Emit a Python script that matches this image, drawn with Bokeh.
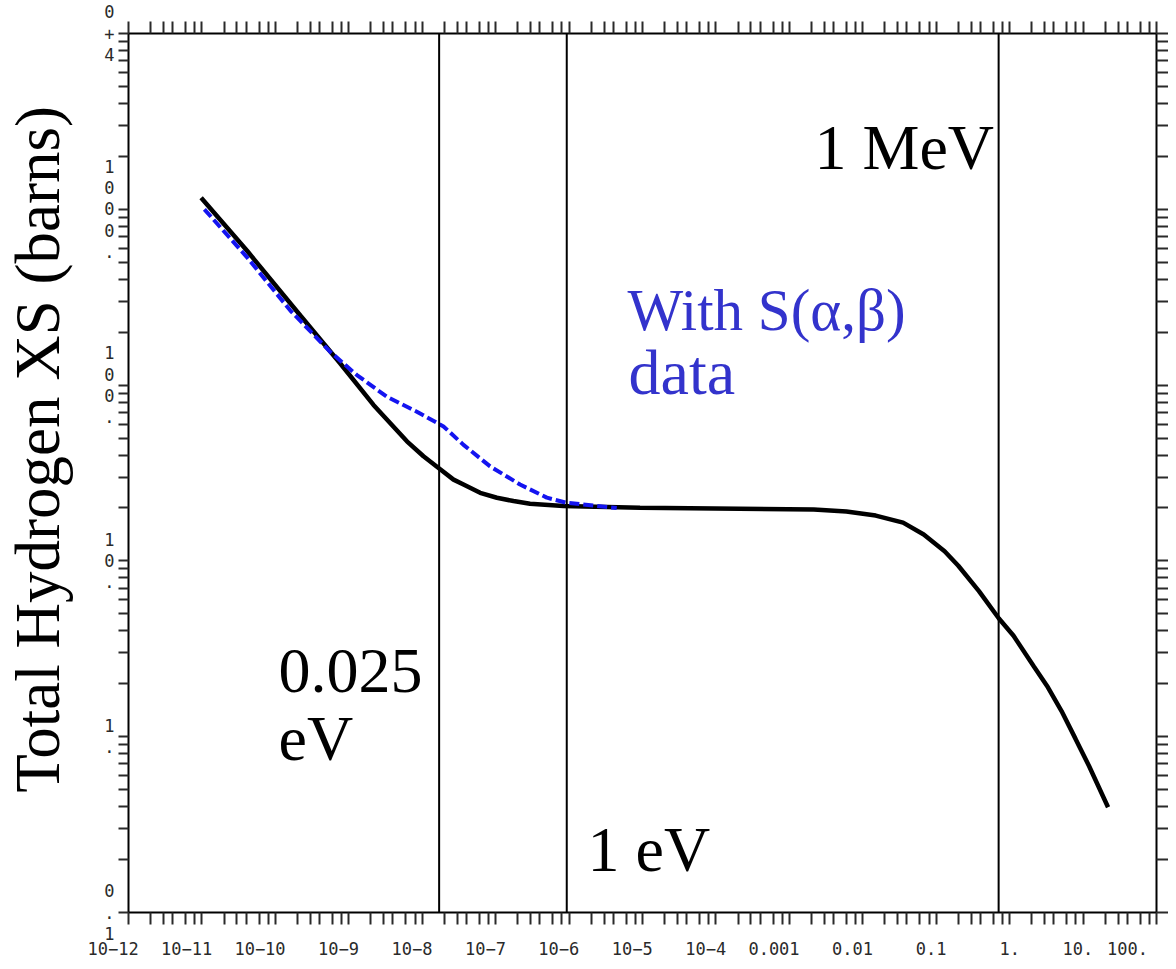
from bokeh.plotting import figure
from bokeh.models import FixedTicker, LogAxis, CustomJSTickFormatter, Span, Label
from bokeh.embed import file_html
from bokeh.resources import INLINE

# ---- data (energy in MeV, cross section in barns) ----
total_energy_mev = [9.75e-12, 4.12e-11, 2.19e-10, 7.66e-10, 2.17e-9, 6.19e-9, 1.04e-8,
                    1.67e-8, 2.67e-8, 3.65e-8, 6.15e-8, 1.04e-7, 1.75e-7, 2.94e-7,
                    8.36e-7, 9.25e-6, 2.15e-3, 5.98e-3, 1.50e-2, 3.54e-2, 6.76e-2,
                    0.130, 0.200, 0.382, 0.714, 1.13, 2.15, 3.32, 5.09, 7.87, 12.1, 21.9]
total_xs_barns = [1164, 580.7, 248.9, 132.7, 77.1, 47.9, 39.4,
                  33.8, 29.0, 27.2, 24.4, 22.86, 21.9, 21.13,
                  20.51, 20.04, 19.63, 19.10, 18.11, 16.52, 14.13,
                  11.35, 9.38, 6.73, 4.70, 3.75, 2.50, 1.91, 1.40, 0.975, 0.679, 0.397]

sab_energy_mev = [1.08e-11, 4.12e-11, 1.60e-10, 5.60e-10, 1.29e-9, 3.30e-9, 8.45e-9,
                  1.95e-8, 3.65e-8, 8.41e-8, 2.15e-7, 4.98e-7, 9.31e-7, 4.46e-6]
sab_xs_barns = [1000, 533, 265.5, 154.5, 114.0, 85.9, 70.6,
                58.2, 45.7, 34.5, 27.2, 22.9, 21.4, 20.0]

marker_energy_mev = [1.70e-8, 9.3e-7, 0.708]

x_major = [1e-12, 1e-11, 1e-10, 1e-9, 1e-8, 1e-7, 1e-6, 1e-5, 1e-4, 1e-3, 1e-2, 1e-1, 1.0, 10.0, 100.0]
x_minor_mult = [2, 3, 4, 6, 8]
y_major = [0.1, 1.0, 10.0, 100.0, 1000.0, 10000.0]
y_minor_mult = [2, 3, 4, 5, 6, 7, 8, 9]

x_tick_labels = ["10\u221212", "10\u221211", "10\u221210", "10\u22129", "10\u22128", "10\u22127",
                 "10\u22126", "10\u22125", "10\u22124", "0.001", "0.01", "0.1", "1.", "10.", "100."]
y_tick_labels = ["0\n.\n1", "1\n.", "1\n0\n.", "1\n0\n0\n.", "1\n0\n0\n0\n.", "0\n+\n4"]
y_title = "Total Hydrogen XS (barns)"

x_minor = [m * v for v in x_major[:-1] for m in x_minor_mult]
y_minor = [m * v for v in y_major[:-1] for m in y_minor_mult]
# labels in the original sit with their right end just past the tick
x_tick_text = [t + "\u00a0" * max(len(t) - 2, 0) for t in x_tick_labels]

p = figure(width=1168, height=961, x_axis_type="log", y_axis_type="log",
           x_range=(x_major[0], x_major[-1]), y_range=(y_major[0], y_major[-1]),
           output_backend="svg", toolbar_location=None,
           min_border_left=128, min_border_right=11, min_border_top=33, min_border_bottom=44,
           background_fill_color="white", border_fill_color="white")
p.outline_line_color = None
p.grid.visible = False

TICK_COLOR = "#2a2a2a"
LABEL_FONT = "DejaVu Sans Mono"
SERIF = "Liberation Serif"


def style_axis(ax, ticker, tick_len):
    ax.ticker = ticker
    ax.axis_line_color = "black"
    ax.axis_line_width = 2
    ax.major_tick_line_color = TICK_COLOR
    ax.minor_tick_line_color = TICK_COLOR
    ax.major_tick_line_width = 2
    ax.minor_tick_line_width = 2
    ax.major_tick_out = tick_len
    ax.minor_tick_out = tick_len
    ax.major_tick_in = 0
    ax.minor_tick_in = 0


xticker = FixedTicker(ticks=x_major, minor_ticks=x_minor)
yticker = FixedTicker(ticks=y_major, minor_ticks=y_minor)

bottom = p.below[0]
style_axis(bottom, xticker, 12)
bottom.formatter = CustomJSTickFormatter(args=dict(labels=x_tick_text),
                                         code="return labels[Math.round(Math.log10(tick)) + 12];")
bottom.major_label_text_font = LABEL_FONT
bottom.major_label_text_font_size = "17px"
bottom.major_label_text_color = TICK_COLOR
bottom.major_label_standoff = 14

left = p.left[0]
style_axis(left, yticker, 10)
left.formatter = CustomJSTickFormatter(args=dict(labels=y_tick_labels),
                                       code="return labels[Math.round(Math.log10(tick)) + 1];")
left.major_label_text_font = LABEL_FONT
left.major_label_text_font_size = "17px"
left.major_label_text_color = TICK_COLOR
left.major_label_text_line_height = 1.06
left.major_label_standoff = 4
# leading spaces move the (frame-centred) title up, as in the original
left.axis_label = "\u00a0" * 3 + y_title
left.axis_label_text_font = SERIF
left.axis_label_text_font_size = "63px"
left.axis_label_text_font_style = "normal"
left.axis_label_text_color = "black"
left.axis_label_standoff = 28

top = LogAxis(formatter=CustomJSTickFormatter(code="return '';"))
style_axis(top, xticker, 12)
top.major_label_text_font_size = "1px"
top.major_label_standoff = 0
p.add_layout(top, "above")

right = LogAxis(formatter=CustomJSTickFormatter(code="return '';"))
style_axis(right, yticker, 12)
right.major_label_text_font_size = "1px"
right.major_label_standoff = 0
p.add_layout(right, "right")

# curves
p.line(total_energy_mev, total_xs_barns, line_color="black", line_width=4.5)
p.line(sab_energy_mev, sab_xs_barns, line_color="#1414f0", line_width=4, line_dash="10 4")

for e in marker_energy_mev:
    p.add_layout(Span(location=e, dimension="height", line_color="black", line_width=2))

texts = [
    ("1 MeV", 686, 765, "black", "64px"),
    ("With S(\u03b1,\u03b2)", 499, 603, "#3333cc", "59px"),
    ("data", 500, 540, "#3333cc", "64px"),
    ("0.025", 150, 242, "black", "64px"),
    ("eV", 150, 174, "black", "64px"),
    ("1 eV", 459, 63, "black", "64px"),
]
for t, sx, sy, c, fs in texts:
    p.add_layout(Label(x=sx, y=sy, x_units="screen", y_units="screen", text=t,
                       text_align="left", text_baseline="alphabetic",
                       text_font=SERIF, text_font_size=fs, text_color=c))

open("out.html", "w").write(file_html(p, INLINE))
